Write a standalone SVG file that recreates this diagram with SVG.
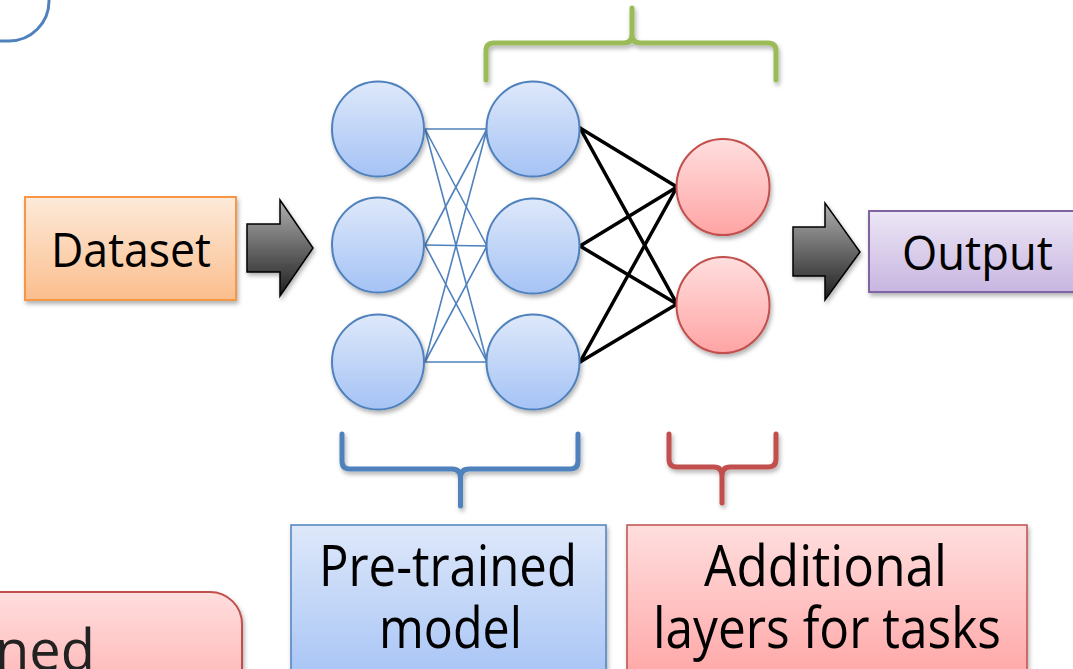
<svg xmlns="http://www.w3.org/2000/svg" width="1073" height="669" viewBox="0 0 1073 669">
  <defs>
    <linearGradient id="gBlue" x1="0" y1="0" x2="0" y2="1">
      <stop offset="0" stop-color="#DEE8FA"/>
      <stop offset="1" stop-color="#A5C3F5"/>
    </linearGradient>
    <linearGradient id="gRed" x1="0" y1="0" x2="0" y2="1">
      <stop offset="0" stop-color="#FFDEDE"/>
      <stop offset="1" stop-color="#FFA4A4"/>
    </linearGradient>
    <linearGradient id="gOrange" x1="0" y1="0" x2="0" y2="1">
      <stop offset="0" stop-color="#FDEADA"/>
      <stop offset="1" stop-color="#FBBE8D"/>
    </linearGradient>
    <linearGradient id="gPurple" x1="0" y1="0" x2="0" y2="1">
      <stop offset="0" stop-color="#ECE6F5"/>
      <stop offset="1" stop-color="#C8B6E1"/>
    </linearGradient>
    <linearGradient id="gGray" x1="0" y1="0" x2="0" y2="1">
      <stop offset="0" stop-color="#B0B0B0"/>
      <stop offset="1" stop-color="#1E1E1E"/>
    </linearGradient>
    <filter id="shadow" x="-20%" y="-20%" width="140%" height="150%">
      <feDropShadow dx="1.5" dy="3" stdDeviation="2" flood-color="#000" flood-opacity="0.3"/>
    </filter>
    <style>
      .lbl { font-family: "Open Sans", "Noto Sans", "DejaVu Sans", sans-serif; fill: #000; }
      .big { font-size: 56px; }
      .mid { font-size: 47px; }
      .ncirc { fill: url(#gBlue); stroke: #4F81BD; stroke-width: 2; filter: url(#shadow); }
      .rcirc { fill: url(#gRed); stroke: #C0504D; stroke-width: 2; filter: url(#shadow); }
      .arrow { fill: url(#gGray); stroke: #000; stroke-width: 1.5; stroke-linejoin: miter; filter: url(#shadow); }
      .brace { fill: none; stroke-width: 5; stroke-linecap: round; stroke-linejoin: round; filter: url(#shadow); }
      .wBlue { stroke: #4F81BD; stroke-width: 1.6; }
      .wBlack { stroke: #000; stroke-width: 3.5; stroke-linecap: round; }
    </style>
  </defs>

  <rect width="1073" height="669" fill="#FFFFFF"/>

  <!-- partial frame at the top-left corner -->
  <g id="corner-frame">
    <rect x="-200" y="-100" width="249" height="141" rx="40" fill="#FFFFFF" stroke="#4F81BD" stroke-width="3"/>
  </g>

  <!-- connectors -->
  <g id="connectors">
    <g class="wBlue">
      <line x1="425" y1="129" x2="487" y2="129"/>
      <line x1="425" y1="129" x2="487" y2="246"/>
      <line x1="425" y1="129" x2="487" y2="362"/>
      <line x1="425" y1="245" x2="487" y2="129"/>
      <line x1="425" y1="245" x2="487" y2="246"/>
      <line x1="425" y1="245" x2="487" y2="362"/>
      <line x1="425" y1="362" x2="487" y2="129"/>
      <line x1="425" y1="362" x2="487" y2="246"/>
      <line x1="425" y1="362" x2="487" y2="362"/>
    </g>
    <g class="wBlack">
      <line x1="580" y1="128" x2="677" y2="187"/>
      <line x1="580" y1="128" x2="677" y2="304"/>
      <line x1="580" y1="246" x2="677" y2="187"/>
      <line x1="580" y1="246" x2="677" y2="304"/>
      <line x1="580" y1="362" x2="677" y2="187"/>
      <line x1="580" y1="362" x2="677" y2="304"/>
    </g>
    <path id="arrow-in" class="arrow" d="M247,224 H280 V200 L313,248 L280,296 V272 H247 Z"/>
    <path id="arrow-out" class="arrow" d="M793,227 H825 V203 L860,252 L825,300 V276 H793 Z"/>
  </g>

  <!-- input dataset -->
  <g id="dataset">
    <rect x="25" y="197" width="211" height="103" fill="url(#gOrange)" stroke="#F79646" stroke-width="2" filter="url(#shadow)"/>
    <text class="lbl mid" x="51" y="267" textLength="160" lengthAdjust="spacingAndGlyphs">Dataset</text>
  </g>

  <!-- pre-trained network layers -->
  <g id="layer-in">
    <ellipse class="ncirc" cx="378" cy="129" rx="46" ry="47.5"/>
    <ellipse class="ncirc" cx="378" cy="245" rx="46" ry="47.5"/>
    <ellipse class="ncirc" cx="378" cy="362" rx="46" ry="47.5"/>
  </g>
  <g id="layer-hidden">
    <ellipse class="ncirc" cx="533" cy="129" rx="46.5" ry="47.5"/>
    <ellipse class="ncirc" cx="533" cy="246" rx="46.5" ry="47.5"/>
    <ellipse class="ncirc" cx="533" cy="362" rx="46.5" ry="47.5"/>
  </g>

  <!-- task-specific layer -->
  <g id="layer-task">
    <ellipse class="rcirc" cx="723" cy="187" rx="46.5" ry="48"/>
    <ellipse class="rcirc" cx="723" cy="305" rx="46.5" ry="48"/>
  </g>

  <!-- output -->
  <g id="output">
    <rect x="869" y="211" width="220" height="81" fill="url(#gPurple)" stroke="#8064A2" stroke-width="2" filter="url(#shadow)"/>
    <text class="lbl mid" x="902" y="270" textLength="151" lengthAdjust="spacingAndGlyphs">Output</text>
  </g>

  <!-- braces -->
  <g id="brace-top">
    <path class="brace" stroke="#9BBB59" d="M486,80 V51 Q486,43 494,43 H624 Q632,43 632,34 V8 M632,34 Q632,43 640,43 H768 Q776,43 776,51 V80"/>
  </g>
  <g id="brace-pretrained">
    <path class="brace" stroke="#4F81BD" d="M342,434 V461 Q342,469 350,469 H452 Q460.5,469 460.5,478 V506 M460.5,478 Q460.5,469 469,469 H570 Q578,469 578,461 V434"/>
  </g>
  <g id="brace-task">
    <path class="brace" stroke="#C0504D" d="M669,434 V459 Q669,467 677,467 H714 Q722,467 722,476 V503 M722,476 Q722,467 730,467 H768 Q776,467 776,459 V434"/>
  </g>

  <!-- labels -->
  <g id="pretrained-label">
    <rect x="291" y="525" width="315" height="160" fill="url(#gBlue)" stroke="#4F81BD" stroke-width="1.5" filter="url(#shadow)"/>
    <text class="lbl big" x="319" y="586" textLength="258" lengthAdjust="spacingAndGlyphs">Pre-trained</text>
    <text class="lbl big" x="379" y="648" textLength="143" lengthAdjust="spacingAndGlyphs">model</text>
  </g>
  <g id="task-label">
    <rect x="627" y="525" width="400" height="160" fill="url(#gRed)" stroke="#C0504D" stroke-width="1.5" filter="url(#shadow)"/>
    <text class="lbl big" x="704" y="586" textLength="243" lengthAdjust="spacingAndGlyphs">Additional</text>
    <text class="lbl big" x="653" y="648" textLength="348" lengthAdjust="spacingAndGlyphs">layers for tasks</text>
  </g>
  <g id="lower-left-box">
    <rect x="-100" y="592" width="342" height="140" rx="32" fill="url(#gRed)" stroke="#C0504D" stroke-width="2" filter="url(#shadow)"/>
    <text class="lbl big" x="-5" y="670" fill="#222" style="fill:#222">ned</text>
  </g>
</svg>
